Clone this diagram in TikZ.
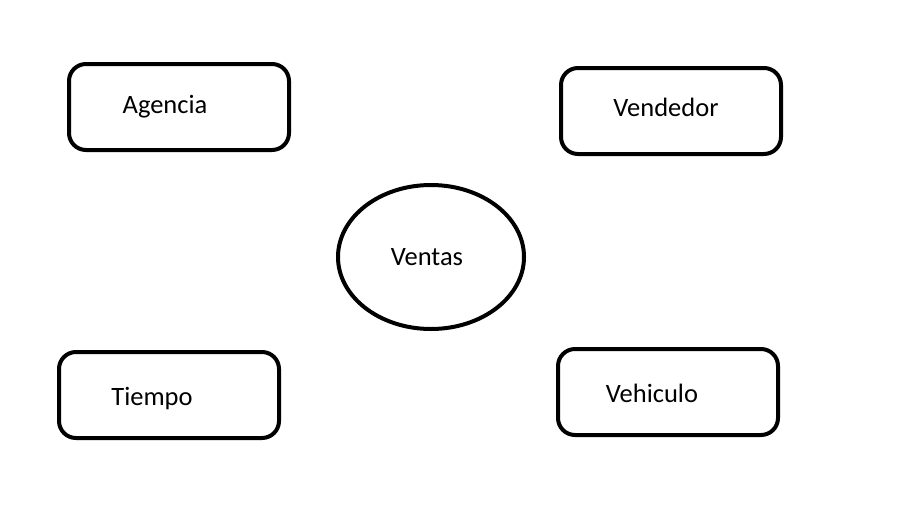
\documentclass[tikz,border=0pt]{standalone}
\usepackage{fontspec}
\setmainfont{Carlito}
\usetikzlibrary{shapes}

\begin{document}
\begin{tikzpicture}[x=1pt,y=-1pt,inner sep=0pt,
  caja/.style={draw,line width=4pt,rounded corners=17pt,minimum width=220pt,minimum height=86pt},
  texto/.style={anchor=base,font=\fontsize{26.5}{31}\selectfont}]
\useasboundingbox (0,0) rectangle (904,509);
\node[caja] (agencia) at (179,107) {};
\node[caja] (vendedor) at (671,111) {};
\node[caja] (tiempo) at (169,395) {};
\node[caja] (vehiculo) at (668,392) {};
\node[draw,ellipse,line width=4pt,minimum width=186pt,minimum height=144pt] (ventas) at (431,257) {};
\node[texto] (tagencia) at (165,113) {Agencia};
\node[texto] (tvendedor) at (666,116) {Vendedor};
\node[texto] (ttiempo) at (152,405) {Tiempo};
\node[texto] (tvehiculo) at (652,402) {Vehiculo};
\node[texto] (tventas) at (427,265) {Ventas};
\end{tikzpicture}
\end{document}
